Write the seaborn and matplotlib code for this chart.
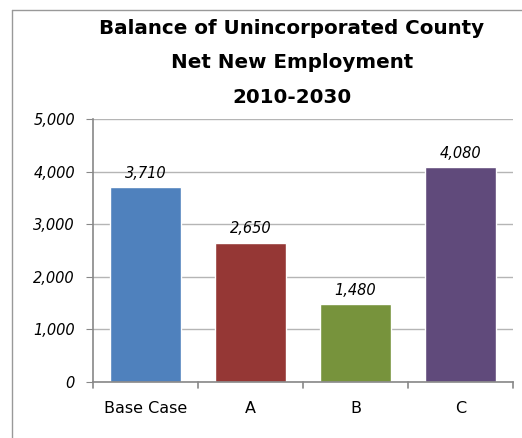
import matplotlib
matplotlib.use("Agg")
import matplotlib.pyplot as plt
import seaborn as sns
import pandas as pd
from matplotlib.lines import Line2D

categories = ["Base Case", "A", "B", "C"]
values = [3710, 2650, 1480, 4080]
colors = ["#4F81BD", "#953735", "#77933C", "#604A7B"]
yticks = [0, 1000, 2000, 3000, 4000, 5000]
title_lines = ["Balance of Unincorporated County", "Net New Employment", "2010-2030"]

sns.set_style("white")
plt.rcParams['font.family'] = ['DejaVu Sans']
plt.rcParams['text.color'] = 'black'
plt.rcParams['xtick.color'] = 'black'
plt.rcParams['ytick.color'] = 'black'

df = pd.DataFrame({"cat": categories, "val": values})

fig = plt.figure(figsize=(5.22, 4.38), dpi=100)
ax = fig.add_axes([93/522, 1-382/438, (513-93)/522, (382-119)/438])

sns.barplot(data=df, x="cat", y="val", hue="cat", palette=colors, width=0.67,
            legend=False, ax=ax, saturation=1)

ax.set_ylim(0, 5000)
ax.set_xlim(-0.5, 3.5)
ax.set_yticks(yticks)
ax.set_yticklabels([f"{v:,}" for v in yticks], fontsize=10.5, style="italic", color="black")
ax.set_xticks(range(len(categories)))
ax.set_xticklabels(categories, fontsize=11.5, color="black")
ax.tick_params(axis="x", length=0, pad=14)
ax.tick_params(axis="y", length=5, color="#888888", pad=8, left=True)
ax.set_xlabel("")
ax.set_ylabel("")
ax.yaxis.grid(True, color="#b5b5b5", linewidth=1)
ax.set_axisbelow(True)
for s in ["top", "right"]:
    ax.spines[s].set_visible(False)
for s in ["left", "bottom"]:
    ax.spines[s].set_color("#888888")
    ax.spines[s].set_linewidth(1.2)

# category boundary ticks
for b in [-0.5, 0.5, 1.5, 2.5, 3.5]:
    ax.plot([b, b], [0, -110], color="#888888", lw=1.2, clip_on=False)

for i, v in enumerate(values):
    ax.text(i, v + 120, f"{v:,}", ha="center", va="bottom", fontsize=10.5,
            style="italic", color="black")

ys = [1-28/438, 1-63/438, 1-98/438]
for t, y in zip(title_lines, ys):
    fig.text(292/522, y, t, ha="center", va="center", fontsize=14.3,
             fontweight="bold", color="black")

# figure border (left and top)
fig.add_artist(Line2D([12/522, 12/522], [0, 1-10/438], color="#999999", lw=1, transform=fig.transFigure))
fig.add_artist(Line2D([12/522, 1], [1-10/438, 1-10/438], color="#999999", lw=1, transform=fig.transFigure))

fig.savefig("out.png", dpi=100)
